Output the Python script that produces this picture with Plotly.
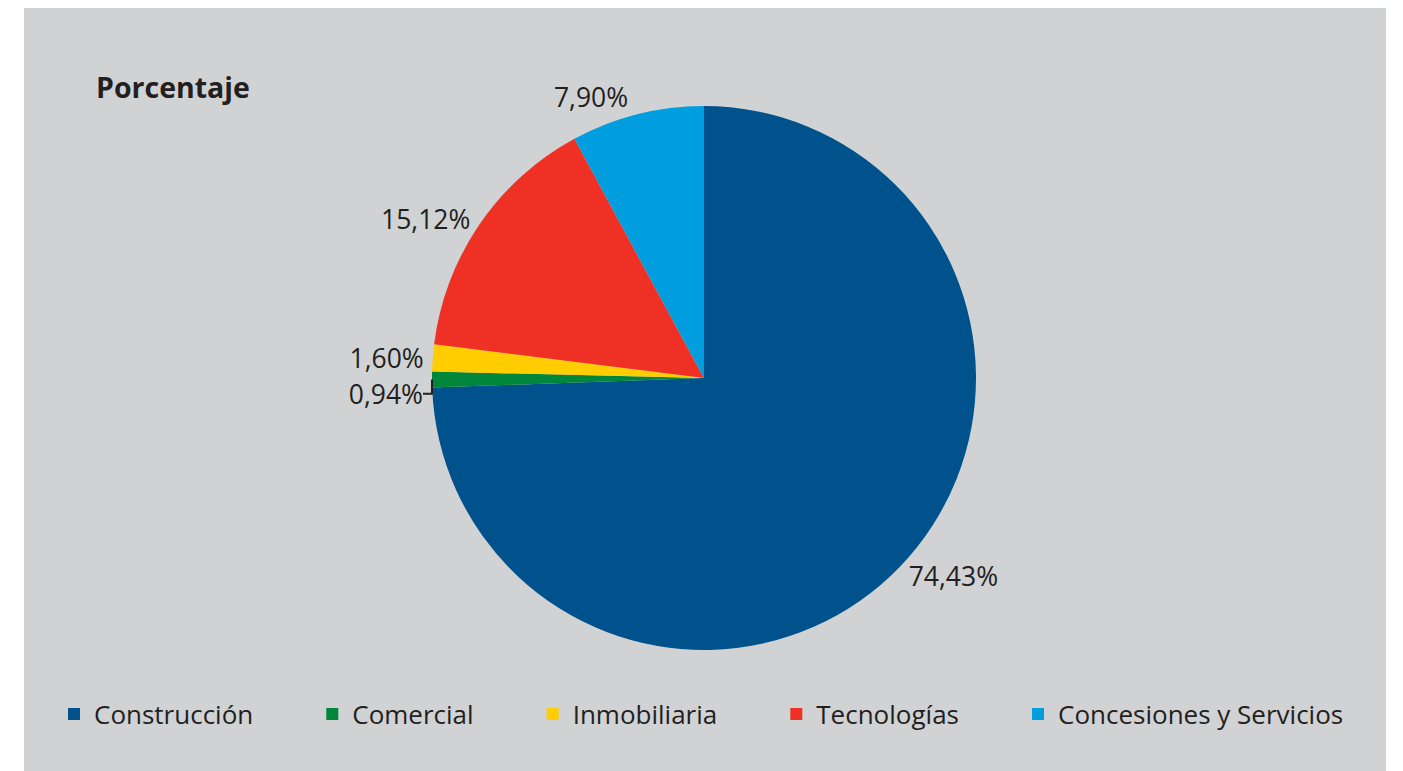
import plotly.graph_objects as go

categories = ["Construcción", "Comercial", "Inmobiliaria", "Tecnologías", "Concesiones y Servicios"]
values = [74.43, 0.94, 1.60, 15.12, 7.90]
colors = ["#00528C", "#00873C", "#FFCD00", "#EE3124", "#009EDF"]

W, H = 1403, 771
cx, cy, r = 704, 378, 272

pad = "\u00a0" * 8
legend_names = [c + pad for c in categories[:-1]] + [categories[-1]]

fig = go.Figure(go.Pie(
    labels=legend_names,
    values=values,
    sort=False,
    direction="clockwise",
    rotation=0,
    marker=dict(colors=colors, line=dict(width=0)),
    textposition="outside",
    texttemplate="%{value:.2f}%",
    textfont=dict(family="Open Sans", size=26.5, color="#231F20"),
    hoverinfo="label+value",
    domain=dict(x=[(cx - r) / W, (cx + r) / W], y=[(H - cy - r) / H, (H - cy + r) / H]),
))

fig.update_layout(
    width=W, height=H,
    margin=dict(l=0, r=0, t=0, b=0),
    paper_bgcolor="white",
    separators=",.",
    font=dict(family="Open Sans", color="#231F20"),
    shapes=[dict(type="rect", xref="paper", yref="paper", x0=24 / W, x1=1386 / W, y0=0, y1=1 - 8 / H,
                 fillcolor="#D1D2D4", line=dict(width=0), layer="below")],
    title=dict(text="<b>Porcentaje</b>", x=96 / W, xanchor="left", xref="paper",
               y=1 - 88 / H, yanchor="middle", yref="paper",
               font=dict(family="Open Sans", size=28.5, color="#231F20")),
    legend=dict(orientation="h", x=54 / W, xanchor="left", y=(H - 714) / H, yanchor="middle",
                font=dict(family="Open Sans", size=26, color="#231F20"), bgcolor="rgba(0,0,0,0)",
                traceorder="normal"),
    showlegend=True,
)

fig.write_html("out.html", config={"displayModeBar": False},
               post_script="document.body.style.margin='0px';")
